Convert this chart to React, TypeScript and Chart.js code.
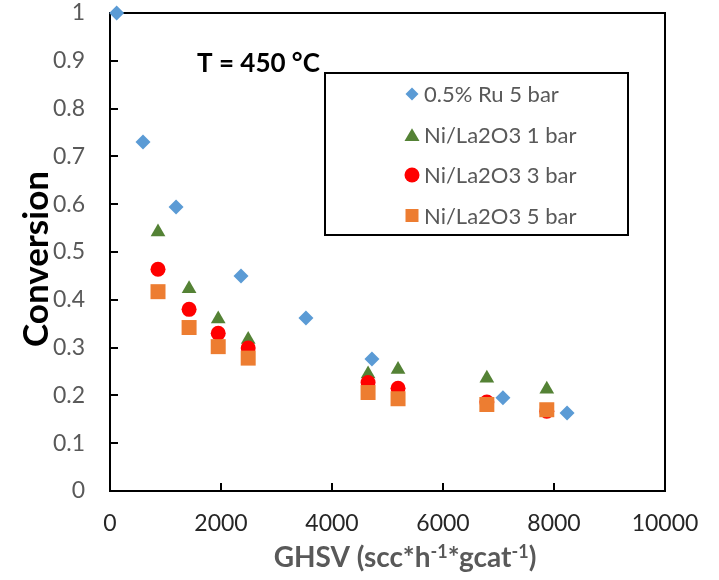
import React, { useEffect, useRef } from "react";
import { Chart, registerables } from "chart.js";

Chart.register(...registerables);

// ---- data ----
const ruX = [120, 595, 1190, 2360, 3530, 4720, 7080, 8235];
const ruY = [1.0, 0.73, 0.594, 0.45, 0.362, 0.276, 0.195, 0.163];

const niX = [865, 1425, 1950, 2490, 4650, 5190, 6790, 7870];
const ni1Y = [0.542, 0.423, 0.36, 0.317, 0.245, 0.254, 0.236, 0.213];
const ni3Y = [0.464, 0.38, 0.33, 0.299, 0.227, 0.215, 0.186, 0.167];
const ni5Y = [0.417, 0.342, 0.302, 0.278, 0.206, 0.193, 0.181, 0.17];

const seriesLabels = ["0.5% Ru 5 bar", "Ni/La2O3 1 bar", "Ni/La2O3 3 bar", "Ni/La2O3 5 bar"];

const xTicks = [0, 2000, 4000, 6000, 8000, 10000];
const xTickLabels = ["0", "2000", "4000", "6000", "8000", "10000"];
const yTicks = [0, 0.1, 0.2, 0.3, 0.4, 0.5, 0.6, 0.7, 0.8, 0.9, 1];
const yTickLabels = ["0", "0.1", "0.2", "0.3", "0.4", "0.5", "0.6", "0.7", "0.8", "0.9", "1"];

const annotationText = "T = 450 °C";
const xTitleParts = ["GHSV (scc*h", "-1", "*gcat", "-1", ")"];
const xTitleSup = [false, true, false, true, false];
const yTitle = "Conversion";

const FONT = "Lato, 'Open Sans', sans-serif";

function toPoints(xs: number[], ys: number[]) {
  return xs.map((x, i) => ({ x, y: ys[i] }));
}

function drawMarker(ctx: CanvasRenderingContext2D, style: string, x: number, y: number, r: number, color: string) {
  ctx.save();
  ctx.fillStyle = color;
  ctx.beginPath();
  if (style === "rectRot") {
    ctx.moveTo(x, y - r);
    ctx.lineTo(x + r, y);
    ctx.lineTo(x, y + r);
    ctx.lineTo(x - r, y);
    ctx.closePath();
  } else if (style === "triangle") {
    const h = r * 1.7;
    ctx.moveTo(x, y - h / 2);
    ctx.lineTo(x + r, y + h / 2);
    ctx.lineTo(x - r, y + h / 2);
    ctx.closePath();
  } else if (style === "circle") {
    ctx.arc(x, y, r, 0, Math.PI * 2);
  } else {
    ctx.rect(x - r, y - r, 2 * r, 2 * r);
  }
  ctx.fill();
  ctx.restore();
}

const framePlugin = {
  id: "frameTicks",
  beforeDatasetsDraw(chart: any) {
    const { ctx, chartArea } = chart;
    const { left, right, top, bottom } = chartArea;
    const xs = chart.scales.x;
    const ys = chart.scales.y;
    ctx.save();
    ctx.strokeStyle = "#000";
    ctx.lineWidth = 2;
    ctx.strokeRect(left, top, right - left, bottom - top);
    ctx.beginPath();
    yTicks.forEach((v) => {
      if (v <= ys.min || v >= ys.max) return;
      const py = Math.round(ys.getPixelForValue(v));
      ctx.moveTo(left, py);
      ctx.lineTo(left + 8, py);
    });
    xTicks.forEach((v) => {
      if (v <= xs.min || v >= xs.max) return;
      const px = Math.round(xs.getPixelForValue(v));
      ctx.moveTo(px, bottom);
      ctx.lineTo(px, bottom - 8);
    });
    ctx.stroke();
    ctx.restore();
  },
};

const overlayPlugin = {
  id: "legendAnnot",
  afterDraw(chart: any) {
    const { ctx } = chart;
    ctx.save();
    // annotation
    ctx.fillStyle = "#000";
    ctx.font = `bold 26px ${FONT}`;
    ctx.textAlign = "left";
    ctx.textBaseline = "alphabetic";
    ctx.fillText(annotationText, 197, 72);

    // y axis title
    ctx.save();
    ctx.translate(37, 259);
    ctx.rotate(-Math.PI / 2);
    ctx.font = `bold 35px ${FONT}`;
    ctx.fillStyle = "#000";
    ctx.textAlign = "center";
    ctx.textBaseline = "middle";
    ctx.fillText(yTitle, 0, 0);
    ctx.restore();

    // x axis title with superscripts
    const mainFont = `bold 28px ${FONT}`;
    const supFont = `bold 18px ${FONT}`;
    let total = 0;
    const widths = xTitleParts.map((t, i) => {
      ctx.font = xTitleSup[i] ? supFont : mainFont;
      const w = ctx.measureText(t).width;
      total += w;
      return w;
    });
    let cx = 405 - total / 2;
    ctx.fillStyle = "#595959";
    ctx.textAlign = "left";
    ctx.textBaseline = "alphabetic";
    xTitleParts.forEach((t, i) => {
      ctx.font = xTitleSup[i] ? supFont : mainFont;
      ctx.fillText(t, cx, xTitleSup[i] ? 558 : 567);
      cx += widths[i];
    });

    // legend box
    ctx.fillStyle = "#fff";
    ctx.fillRect(325, 73, 303, 162);
    ctx.strokeStyle = "#000";
    ctx.lineWidth = 2;
    ctx.strokeRect(325, 73, 303, 162);

    const sizes: Record<string, number> = { rectRot: 6.5, triangle: 7.5, circle: 7.5, rect: 6.5 };
    chart.data.datasets.forEach((ds: any, i: number) => {
      const cy = 94 + i * 40.5;
      drawMarker(ctx, ds.pointStyle, 412, cy, sizes[ds.pointStyle] || 7, ds.backgroundColor);
      ctx.fillStyle = "#595959";
      ctx.font = `22px ${FONT}`;
      ctx.textBaseline = "middle";
      ctx.textAlign = "left";
      ctx.fillText(ds.label, 424, cy + 1);
    });
    ctx.restore();
  },
};

export default function App() {
  const ref = useRef<HTMLCanvasElement | null>(null);

  useEffect(() => {
    if (!ref.current) return;
    const chart = new Chart(ref.current, {
      type: "scatter",
      data: {
        datasets: [
          {
            label: seriesLabels[0],
            data: toPoints(ruX, ruY),
            pointStyle: "rectRot",
            pointRadius: 7.5,
            backgroundColor: "#5B9BD5",
            borderColor: "#5B9BD5",
            borderWidth: 0,
            order: 3,
            clip: false,
          },
          {
            label: seriesLabels[1],
            data: toPoints(niX, ni1Y),
            pointStyle: "triangle",
            pointRadius: 8.5,
            backgroundColor: "#548235",
            borderColor: "#548235",
            borderWidth: 0,
            order: 2,
            clip: false,
          },
          {
            label: seriesLabels[2],
            data: toPoints(niX, ni3Y),
            pointStyle: "circle",
            pointRadius: 7.5,
            backgroundColor: "#FF0000",
            borderColor: "#FF0000",
            borderWidth: 0,
            order: 1,
            clip: false,
          },
          {
            label: seriesLabels[3],
            data: toPoints(niX, ni5Y),
            pointStyle: "rect",
            pointRadius: 10.6,
            backgroundColor: "#ED7D31",
            borderColor: "#ED7D31",
            borderWidth: 0,
            order: 0,
            clip: false,
          },
        ],
      },
      options: {
        animation: false,
        responsive: true,
        maintainAspectRatio: false,
        devicePixelRatio: 1,
        layout: { padding: { left: 0, right: 54, top: 13, bottom: 0 } },
        plugins: {
          legend: { display: false },
          tooltip: { enabled: false },
        },
        scales: {
          x: {
            type: "linear",
            min: 0,
            max: 10000,
            grid: { display: false, drawTicks: true, tickLength: 18 },
            border: { display: false },
            afterBuildTicks: (s: any) => {
              s.ticks = xTicks.map((v) => ({ value: v }));
            },
            afterFit: (s: any) => {
              s.height = 89;
            },
            ticks: {
              padding: 1,
              color: "#262626",
              font: { family: FONT, size: 23, lineHeight: 1.2 },
              maxRotation: 0,
              autoSkip: false,
              callback: (_v: any, i: number) => xTickLabels[i],
            },
            title: { display: false },
          },
          y: {
            type: "linear",
            min: 0,
            max: 1,
            grid: { display: false, drawTicks: true, tickLength: 24 },
            border: { display: false },
            afterBuildTicks: (s: any) => {
              s.ticks = yTicks.map((v) => ({ value: v }));
            },
            afterFit: (s: any) => {
              s.width = 110;
            },
            ticks: {
              padding: 1,
              color: "#595959",
              font: { family: FONT, size: 23, lineHeight: 1 },
              autoSkip: false,
              callback: (_v: any, i: number) => yTickLabels[i],
            },
            title: { display: false },
          },
        },
      },
      plugins: [framePlugin, overlayPlugin],
    } as any);
    return () => chart.destroy();
  }, []);

  return (
    <div style={{ position: "fixed", left: 0, top: 0, width: 719, height: 580, background: "#fff" }}>
      <canvas ref={ref} />
    </div>
  );
}
